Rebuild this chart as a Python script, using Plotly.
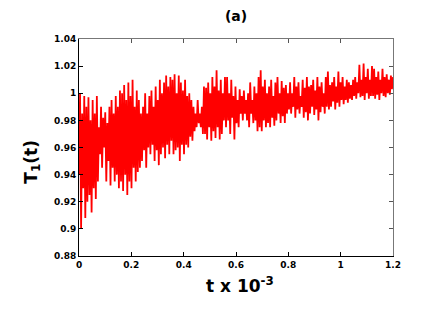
import plotly.graph_objects as go

# peak / trough values, 10 cycles per row, left to right
highs = [
    1.0, 0.985, 0.998, 0.99, 0.997, 0.98, 0.995, 0.985, 0.998, 0.975,
    0.99, 0.982, 0.986, 0.978, 0.99, 0.995, 0.985, 0.998, 0.99, 1.002,
    1.0, 1.006, 0.995, 1.008, 0.998, 1.01, 0.99, 1.002, 0.995, 0.985,
    0.99, 1.0, 0.985, 0.998, 1.002, 0.99, 1.005, 0.995, 1.01, 1.0,
    1.008, 1.013, 1.005, 1.012, 1.01, 1.014, 1.0, 1.013, 1.008, 1.002,
    1.01, 0.998, 1.0, 0.995, 0.99, 0.985, 0.995, 0.985, 0.99, 1.005,
    1.004, 1.008, 1.0, 1.012, 1.005, 1.017, 1.002, 1.01, 1.0, 1.012,
    1.012, 1.0, 1.01, 0.998, 1.005, 0.995, 1.003, 0.998, 1.002, 0.995,
    1.0, 1.008, 0.995, 1.005, 1.0, 1.012, 1.017, 1.005, 1.01, 1.0,
    1.005, 1.01, 0.998, 1.008, 1.012, 1.0, 1.009, 1.004, 1.006, 1.0,
    1.008, 1.0, 1.012, 1.005, 1.008, 0.998, 1.01, 1.004, 1.012, 1.005,
    1.006, 1.01, 1.002, 1.012, 1.005, 1.008, 1.0, 1.012, 1.016, 1.006,
    1.008, 1.012, 1.005, 1.016, 1.008, 1.012, 1.005, 1.01, 1.008, 1.006,
    1.01, 1.012, 1.008, 1.021, 1.01, 1.022, 1.012, 1.018, 1.01, 1.02,
    1.018, 1.012, 1.016, 1.01, 1.018, 1.012, 1.014, 1.01, 1.013, 1.012,
]
lows = [
    0.94, 0.90, 0.93, 0.908, 0.92, 0.925, 0.912, 0.93, 0.922, 0.935,
    0.955, 0.945, 0.96, 0.935, 0.95, 0.932, 0.945, 0.935, 0.94, 0.93,
    0.935, 0.928, 0.94, 0.925, 0.935, 0.93, 0.945, 0.935, 0.942, 0.945,
    0.95, 0.958, 0.945, 0.96, 0.955, 0.962, 0.95, 0.958, 0.947, 0.955,
    0.96, 0.952, 0.962, 0.955, 0.965, 0.955, 0.958, 0.96, 0.95, 0.962,
    0.955, 0.962, 0.96, 0.968, 0.965, 0.972, 0.975, 0.978, 0.975, 0.97,
    0.97, 0.966, 0.975, 0.965, 0.972, 0.967, 0.975, 0.966, 0.97, 0.98,
    0.975, 0.98, 0.97, 0.982, 0.966, 0.978, 0.975, 0.985, 0.98, 0.985,
    0.98, 0.975, 0.985, 0.978, 0.98, 0.972, 0.975, 0.972, 0.98, 0.975,
    0.978, 0.975, 0.982, 0.976, 0.98, 0.985, 0.978, 0.983, 0.978, 0.985,
    0.988, 0.985, 0.99, 0.982, 0.988, 0.985, 0.99, 0.982, 0.986, 0.98,
    0.985, 0.99, 0.984, 0.988, 0.98, 0.986, 0.99, 0.985, 0.99, 0.988,
    0.99, 0.994, 0.988, 0.993, 0.99, 0.995, 0.992, 0.995, 0.993, 0.996,
    0.995, 0.998, 0.996, 1.0, 0.997, 0.998, 0.995, 1.0, 0.996, 0.998,
    0.998, 0.996, 0.999, 0.995, 1.0, 0.998, 0.997, 1.0, 0.999, 1.003,
]
t_end = 1.2
y_ticks = [0.88, 0.9, 0.92, 0.94, 0.96, 0.98, 1.0, 1.02, 1.04]
y_ticktext = ["0.88", "0.9", "0.92", "0.94", "0.96", "0.98", "1", "1.02", "1.04"]
x_ticks = [0, 0.2, 0.4, 0.6, 0.8, 1.0, 1.2]
x_ticktext = ["0", "0.2", "0.4", "0.6", "0.8", "1", "1.2"]

# interleave lows and highs into one time series, evenly sampled
y = []
for lo, hi in zip(lows, highs):
    y += [lo, hi]
dt = t_end / (len(y) - 1)
t = [i * dt for i in range(len(y))]

fig = go.Figure()
fig.add_trace(go.Scatter(x=t, y=y, mode='lines',
                         line=dict(color='#ff0000', width=1.8),
                         showlegend=False, hoverinfo='skip'))
# invisible trace so the top/right frame axes get drawn
fig.add_trace(go.Scatter(x=[0], y=[0.88], xaxis='x2', yaxis='y2',
                         mode='markers', marker=dict(opacity=0),
                         showlegend=False, hoverinfo='skip'))

tickfont = dict(family='DejaVu Sans', size=9, color='black', weight='bold')

# the page body adds 8px on the left and top, margins are shifted for it
fig.update_layout(
    width=436, height=327,
    margin=dict(l=71, r=51, t=31, b=79, autoexpand=False),
    paper_bgcolor='white', plot_bgcolor='white',
    title=dict(text='<b>(a)</b>', x=0.523, xanchor='center', y=0.975,
               yanchor='middle',
               font=dict(family='DejaVu Sans', size=14, color='black')),
    xaxis=dict(range=[0, 1.2], tickvals=x_ticks, ticktext=x_ticktext,
               ticks='inside', ticklen=4, tickcolor='black',
               showline=True, linecolor='black', linewidth=1,
               showgrid=False, zeroline=False, tickfont=tickfont,
               automargin=False),
    yaxis=dict(range=[0.88, 1.04], tickvals=y_ticks, ticktext=y_ticktext,
               ticks='inside', ticklen=4, tickcolor='black',
               showline=True, linecolor='black', linewidth=1,
               showgrid=False, zeroline=False, tickfont=tickfont,
               automargin=False),
    xaxis2=dict(range=[0, 1.2], overlaying='x', side='top',
                tickvals=x_ticks, showticklabels=False,
                ticks='inside', ticklen=4, tickcolor='#555555',
                showline=True, linecolor='#777777', linewidth=1,
                showgrid=False, zeroline=False),
    yaxis2=dict(range=[0.88, 1.04], overlaying='y', side='right',
                tickvals=y_ticks, showticklabels=False,
                ticks='inside', ticklen=4, tickcolor='#555555',
                showline=True, linecolor='#777777', linewidth=1,
                showgrid=False, zeroline=False),
)

# axis titles placed as annotations to sit where the original has them
fig.add_annotation(text='<b>T<sub>1</sub>(t)</b>', textangle=-90,
                   xref='paper', yref='paper', x=-0.151, y=0.433,
                   xanchor='center', yanchor='middle', showarrow=False,
                   font=dict(family='DejaVu Sans', size=17, color='black'))
fig.add_annotation(text='<b>t x 10<sup>-3</sup></b>',
                   xref='paper', yref='paper', x=0.513, y=-0.134,
                   xanchor='center', yanchor='middle', showarrow=False,
                   font=dict(family='DejaVu Sans', size=17, color='black'))

fig.write_html("out.html")
